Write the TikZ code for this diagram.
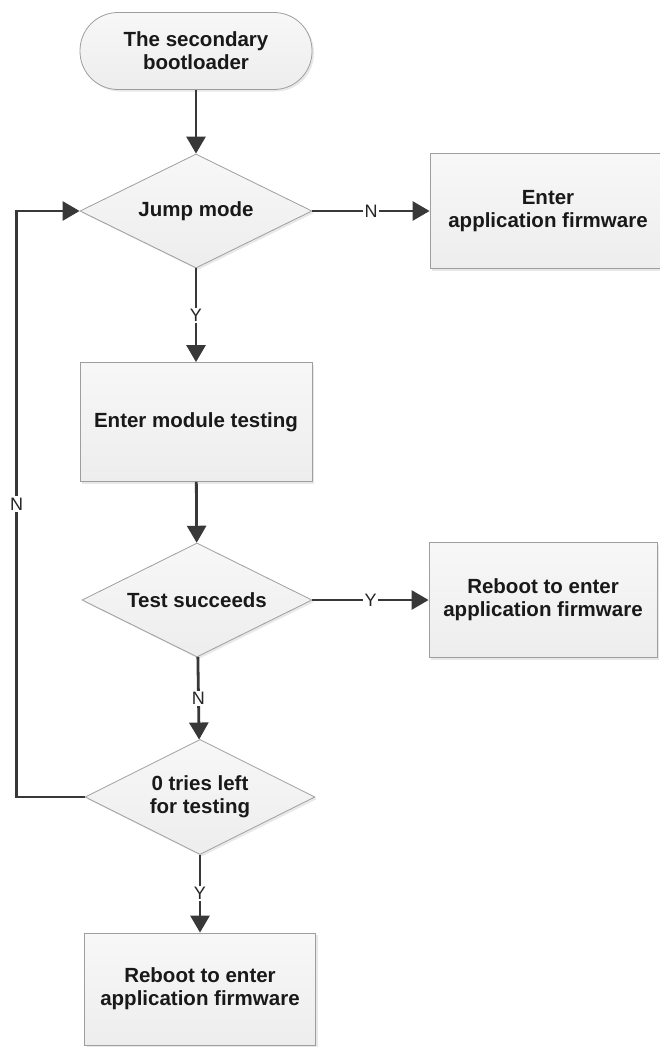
\documentclass[tikz,border=0pt]{standalone}
\usepackage{fontspec}
\setmainfont{Liberation Sans}
\usetikzlibrary{shapes.geometric,arrows.meta,shadows}

\begin{document}
\begin{tikzpicture}[x=1pt,y=-1pt,
    block/.style={rectangle, draw=black!38, line width=0.8pt, top color=black!3, bottom color=black!7,
        minimum width=232pt, minimum height=116pt, align=center, text=black!90,
        font=\fontsize{20.5}{23}\selectfont\bfseries,
        drop shadow={opacity=0.18, shadow xshift=2pt, shadow yshift=-2pt}},
    decision/.style={block, diamond, aspect=2, inner sep=0pt, minimum height=114pt},
    terminal/.style={block, rounded corners=38pt, minimum height=77pt},
    flow/.style={draw=black!78, line width=2.8pt, -{Triangle[length=17pt,width=19pt]}},
    yn/.style={fill=white, text=black!85, font=\fontsize{18}{18}\selectfont, inner sep=1.5pt}]

\useasboundingbox (0,0) rectangle (659,1047);

\node[terminal] (boot) at (196,51) {The secondary\\bootloader};
\node[decision] (jump) at (196,211) {Jump mode};
\node[block, minimum width=236pt, minimum height=115pt] (appfw) at (548,211) {Enter\\application firmware};
\node[block, minimum height=119pt] (modtest) at (196,422) {Enter module testing};
\node[decision, minimum width=230pt] (success) at (197,600) {Test succeeds};
\node[block, minimum width=228pt, minimum height=115pt] (reboota) at (543,600) {Reboot to enter\\application firmware};
\node[decision, minimum width=230pt, minimum height=115pt] (tries) at (200,797) {0 tries left\\for testing};
\node[block, minimum width=231pt, minimum height=112pt] (rebootb) at (200,989) {Reboot to enter\\application firmware};

\draw[flow] (boot) -- (jump);
\draw[flow] (jump) -- node[yn]{N} (appfw);
\draw[flow] (jump) -- node[yn]{Y} (modtest);
\draw[flow] (modtest) -- (success);
\draw[flow] (success) -- node[yn]{Y} (reboota);
\draw[flow] (success) -- node[yn]{N} (tries);
\draw[flow] (tries) -- node[yn]{Y} (rebootb);
\draw[flow] (tries.west) -- ++(-68,0) |- node[yn, pos=0.25]{N} (jump.west);

\end{tikzpicture}
\end{document}
